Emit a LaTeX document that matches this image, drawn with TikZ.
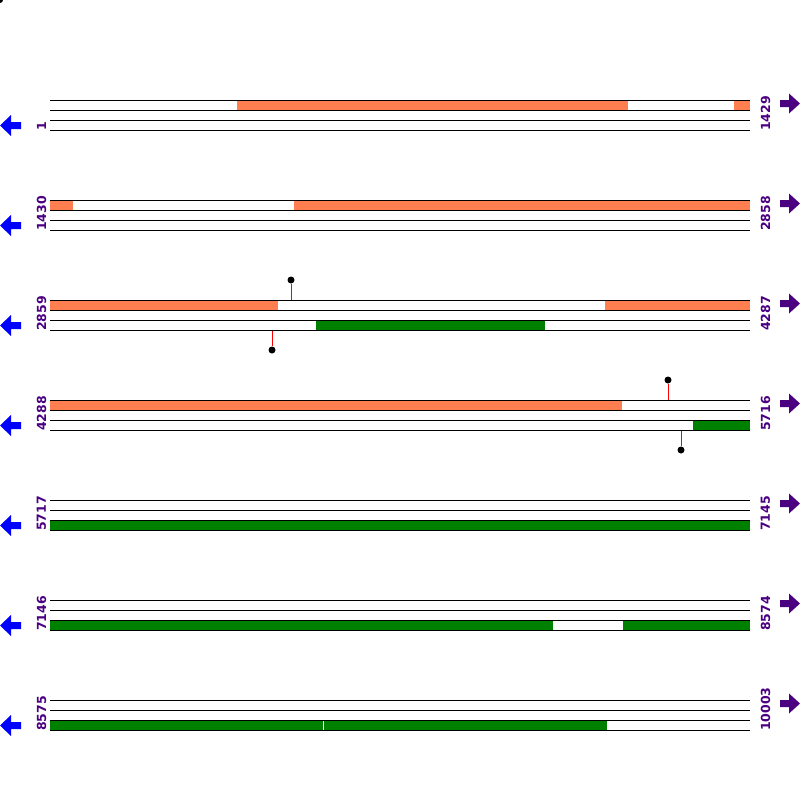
\documentclass[tikz,border=0pt]{standalone}
\usepackage{fontspec}
\setmainfont{DejaVu Sans}
\usepackage{tikz}
\usetikzlibrary{positioning}
\definecolor{coral}{HTML}{FF7F50}
\definecolor{darkgreen}{HTML}{008000}
\definecolor{indigo}{HTML}{4B0082}
\tikzstyle{track} = [draw=black, line width=1pt]
\tikzstyle{fwd} = [fill=coral]
\tikzstyle{rev} = [fill=darkgreen]
\tikzstyle{posleft} = [rotate=90, anchor=west, inner sep=0pt, text=indigo, font=\fontsize{12.5}{13}\selectfont\bfseries]
\tikzstyle{posright} = [rotate=90, anchor=west, inner sep=0pt, text=indigo, font=\fontsize{12.5}{13}\selectfont\bfseries]
\tikzstyle{site} = [circle, fill=black, inner sep=0pt, minimum size=7pt]
\tikzstyle{stem} = [red, line width=1pt]
\tikzstyle{arrowleft} = [fill=blue]
\tikzstyle{arrowright} = [fill=indigo]

\begin{document}
\begin{tikzpicture}[x=1pt, y=-1pt]
\useasboundingbox (0,0) rectangle (800,800);
\fill (0,0) circle (3);
%
% row 1
\fill [fwd] (237,100) rectangle (628,110);
\fill [fwd] (734,100) rectangle (750,110);
\foreach \y in {100,110,120,130} \draw [track] (50,\y) -- (750,\y);
\node (start1) at (41.5,131) [posleft] {1};
\node (end1) at (765.5,131) [posright] {1429};
\fill [arrowleft] (0,125.5) -- (11,115) -- (11,122) -- (21,122) -- (21,129) -- (11,129) -- (11,136) -- cycle;
\fill [arrowright] (800,103.5) -- (789,93.5) -- (789,100) -- (780,100) -- (780,107) -- (789,107) -- (789,113.5) -- cycle;
%
% row 2
\fill [fwd] (50,200) rectangle (73,210);
\fill [fwd] (294,200) rectangle (750,210);
\foreach \y in {200,210,220,230} \draw [track] (50,\y) -- (750,\y);
\node (start2) at (41.5,231) [posleft] {1430};
\node (end2) at (765.5,231) [posright] {2858};
\fill [arrowleft] (0,225.5) -- (11,215) -- (11,222) -- (21,222) -- (21,229) -- (11,229) -- (11,236) -- cycle;
\fill [arrowright] (800,203.5) -- (789,193.5) -- (789,200) -- (780,200) -- (780,207) -- (789,207) -- (789,213.5) -- cycle;
%
% row 3
\fill [fwd] (50,300) rectangle (278,310);
\fill [fwd] (605,300) rectangle (750,310);
\fill [rev] (316,320) rectangle (545,330);
\coordinate (cut1) at (291,300);
\node (site1) at (291,280) [site] {};
\draw [stem] (cut1) -- (site1);
\coordinate (cut2) at (272,330);
\node (site2) at (272,350) [site] {};
\draw [stem] (cut2) -- (site2);
\foreach \y in {300,310,320,330} \draw [track] (50,\y) -- (750,\y);
\node (start3) at (41.5,331) [posleft] {2859};
\node (end3) at (765.5,331) [posright] {4287};
\fill [arrowleft] (0,325.5) -- (11,315) -- (11,322) -- (21,322) -- (21,329) -- (11,329) -- (11,336) -- cycle;
\fill [arrowright] (800,303.5) -- (789,293.5) -- (789,300) -- (780,300) -- (780,307) -- (789,307) -- (789,313.5) -- cycle;
%
% row 4
\fill [fwd] (50,400) rectangle (622,410);
\fill [rev] (693,420) rectangle (750,430);
\coordinate (cut3) at (668,400);
\node (site3) at (668,380) [site] {};
\draw [stem] (cut3) -- (site3);
\coordinate (cut4) at (681,430);
\node (site4) at (681,450) [site] {};
\draw [stem] (cut4) -- (site4);
\foreach \y in {400,410,420,430} \draw [track] (50,\y) -- (750,\y);
\node (start4) at (41.5,431) [posleft] {4288};
\node (end4) at (765.5,431) [posright] {5716};
\fill [arrowleft] (0,425.5) -- (11,415) -- (11,422) -- (21,422) -- (21,429) -- (11,429) -- (11,436) -- cycle;
\fill [arrowright] (800,403.5) -- (789,393.5) -- (789,400) -- (780,400) -- (780,407) -- (789,407) -- (789,413.5) -- cycle;
%
% row 5
\fill [rev] (50,520) rectangle (750,530);
\foreach \y in {500,510,520,530} \draw [track] (50,\y) -- (750,\y);
\node (start5) at (41.5,531) [posleft] {5717};
\node (end5) at (765.5,531) [posright] {7145};
\fill [arrowleft] (0,525.5) -- (11,515) -- (11,522) -- (21,522) -- (21,529) -- (11,529) -- (11,536) -- cycle;
\fill [arrowright] (800,503.5) -- (789,493.5) -- (789,500) -- (780,500) -- (780,507) -- (789,507) -- (789,513.5) -- cycle;
%
% row 6
\fill [rev] (50,620) rectangle (553,630);
\fill [rev] (623,620) rectangle (750,630);
\foreach \y in {600,610,620,630} \draw [track] (50,\y) -- (750,\y);
\node (start6) at (41.5,631) [posleft] {7146};
\node (end6) at (765.5,631) [posright] {8574};
\fill [arrowleft] (0,625.5) -- (11,615) -- (11,622) -- (21,622) -- (21,629) -- (11,629) -- (11,636) -- cycle;
\fill [arrowright] (800,603.5) -- (789,593.5) -- (789,600) -- (780,600) -- (780,607) -- (789,607) -- (789,613.5) -- cycle;
%
% row 7
\fill [rev] (50,720) rectangle (322.5,730);
\fill [rev] (323.5,720) rectangle (607,730);
\foreach \y in {700,710,720,730} \draw [track] (50,\y) -- (750,\y);
\node (start7) at (41.5,731) [posleft] {8575};
\node (end7) at (765.5,731) [posright] {10003};
\fill [arrowleft] (0,725.5) -- (11,715) -- (11,722) -- (21,722) -- (21,729) -- (11,729) -- (11,736) -- cycle;
\fill [arrowright] (800,703.5) -- (789,693.5) -- (789,700) -- (780,700) -- (780,707) -- (789,707) -- (789,713.5) -- cycle;

\end{tikzpicture}
\end{document}
